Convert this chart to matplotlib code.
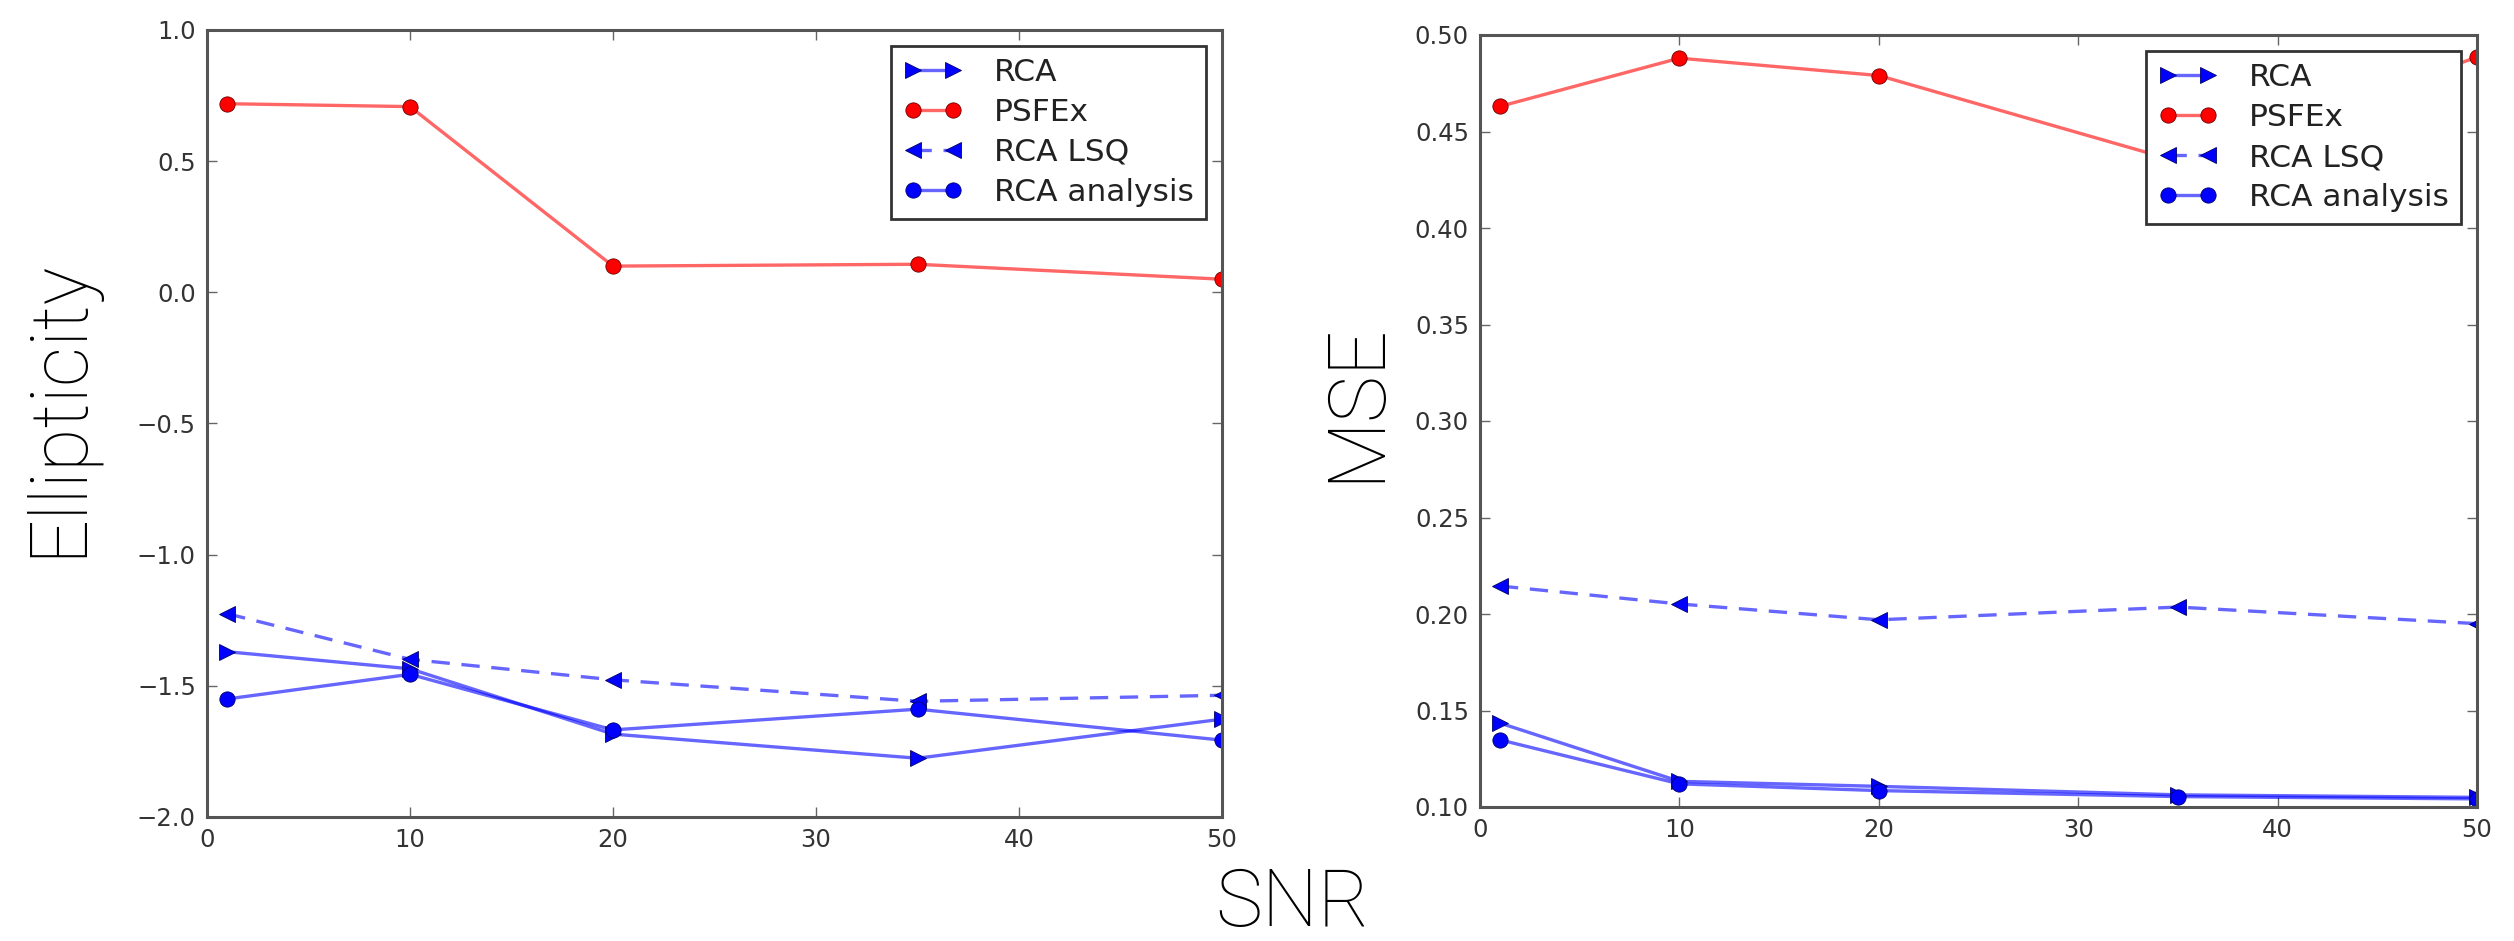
import matplotlib
matplotlib.use("Agg")
from matplotlib import pyplot as plt

# SNR values shared by both panels
snr = [1, 10, 20, 35, 50]

# left panel: ellipticity
ell_rca = [-1.37, -1.435, -1.684, -1.776, -1.627]
ell_psfex = [0.719, 0.708, 0.100, 0.107, 0.050]
ell_rca_lsq = [-1.225, -1.399, -1.477, -1.559, -1.536]
ell_rca_analysis = [-1.550, -1.456, -1.668, -1.589, -1.707]

# right panel: MSE
mse_rca = [0.1435, 0.1133, 0.1107, 0.1063, 0.1050]
mse_psfex = [0.463, 0.488, 0.479, 0.4345, 0.4885]
mse_rca_lsq = [0.2145, 0.2052, 0.1970, 0.2036, 0.1950]
mse_rca_analysis = [0.1348, 0.1120, 0.1085, 0.1054, 0.1042]

labels = ["RCA", "PSFEx", "RCA LSQ", "RCA analysis"]

W, H = 2514, 941
fig = plt.figure(figsize=(W / 100, H / 100), dpi=100)

BLUE_LINE = (0.0, 0.0, 1.0, 0.6)
RED_LINE = (1.0, 0.0, 0.0, 0.6)
LW = 2.4
MS = 11


def draw_panel(ax, rca, psfex, lsq, analysis, ylim, yticks, ylabels):
    ax.plot(snr, rca, color=BLUE_LINE, lw=LW, marker=">", ms=MS,
            mfc="blue", mec="#00006a", mew=0.6, label=labels[0])
    ax.plot(snr, psfex, color=RED_LINE, lw=LW, marker="o", ms=MS,
            mfc="red", mec="#6a0000", mew=0.6, label=labels[1])
    ax.plot(snr, lsq, color=BLUE_LINE, lw=LW, ls=(0, (5.5, 3.5)), marker="<", ms=MS,
            mfc="blue", mec="#00006a", mew=0.6, label=labels[2])
    ax.plot(snr, analysis, color=BLUE_LINE, lw=LW, marker="o", ms=MS,
            mfc="blue", mec="#00006a", mew=0.6, label=labels[3])
    ax.set_xlim(0, 50)
    ax.set_ylim(*ylim)
    ax.set_xticks([0, 10, 20, 30, 40, 50])
    ax.set_yticks(yticks)
    ax.set_yticklabels(ylabels)
    ax.tick_params(direction="in", top=True, right=True, length=7, width=1,
                   color="#666666", labelsize=17.5, labelcolor="#333333", pad=8)
    for sp in ax.spines.values():
        sp.set_color("#555555")
        sp.set_linewidth(2.2)
    leg = ax.legend(loc="upper right", fontsize=22.5, numpoints=2, fancybox=False,
                    framealpha=1, edgecolor="#333333", borderaxespad=0.5,
                    handlelength=1.9, handletextpad=1.0, labelspacing=0.35)
    leg.get_frame().set_linewidth(2)
    for t in leg.get_texts():
        t.set_color("#222222")


ax1 = fig.add_axes([207 / W, 1 - 817 / H, 1015 / W, 787 / H])
draw_panel(ax1, ell_rca, ell_psfex, ell_rca_lsq, ell_rca_analysis,
           (-2.0, 1.0), [-2.0, -1.5, -1.0, -0.5, 0.0, 0.5, 1.0],
           ["\u22122.0", "\u22121.5", "\u22121.0", "\u22120.5", "0.0", "0.5", "1.0"])

ax2 = fig.add_axes([1480 / W, 1 - 807 / H, 997 / W, 772 / H])
yt2 = [0.10, 0.15, 0.20, 0.25, 0.30, 0.35, 0.40, 0.45, 0.50]
draw_panel(ax2, mse_rca, mse_psfex, mse_rca_lsq, mse_rca_analysis,
           (0.10, 0.50), yt2, ["%.2f" % v for v in yt2])

big = dict(family=["Roboto", "Liberation Sans", "DejaVu Sans"], fontweight="light",
           fontsize=57, color="black", rotation_mode="anchor", ha="left", va="baseline")
fig.text(80 / W, 1 - 557 / H, "Ellipticity", rotation=90, **big)
fig.text(1378 / W, 1 - 482 / H, "MSE", rotation=90, **big)
fig.text(1215 / W, 1 - 926 / H, "SNR", **big)

fig.savefig("out.png", dpi=100)
